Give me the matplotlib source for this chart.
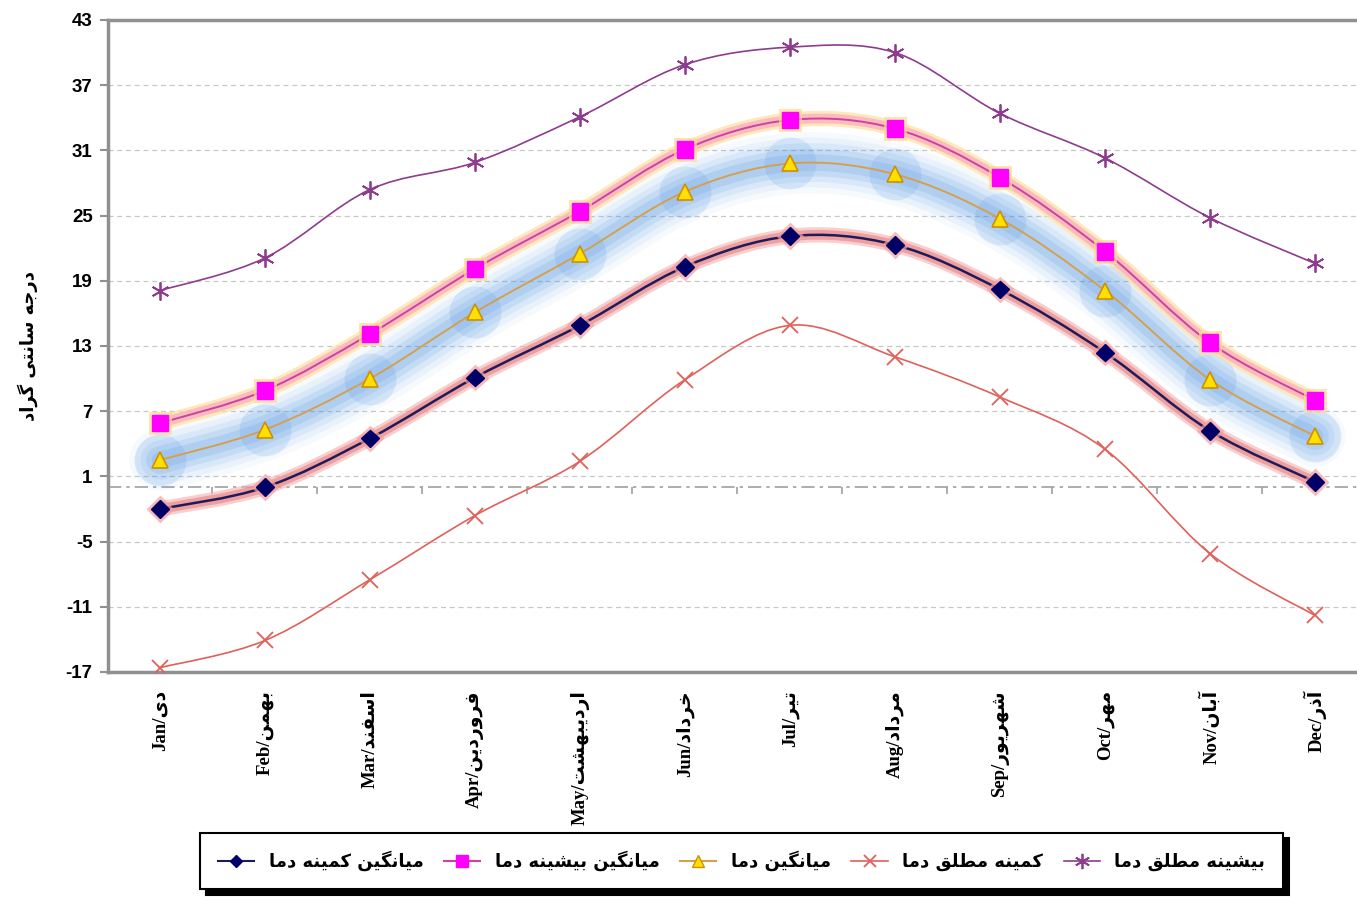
import matplotlib
matplotlib.use("Agg")
import matplotlib.pyplot as plt
import matplotlib.patheffects as pe
from matplotlib.path import Path
from matplotlib.patches import PathPatch
from matplotlib.lines import Line2D
import numpy as np

# Persian glyph forms (isolated, final, initial, medial) so matplotlib can draw joined text
FORMS = {
    'ا': (0xFE8D, 0xFE8E, None, None), 'آ': (0xFE81, 0xFE82, None, None),
    'ب': (0xFE8F, 0xFE90, 0xFE91, 0xFE92), 'ت': (0xFE95, 0xFE96, 0xFE97, 0xFE98),
    'ج': (0xFE9D, 0xFE9E, 0xFE9F, 0xFEA0), 'خ': (0xFEA5, 0xFEA6, 0xFEA7, 0xFEA8),
    'د': (0xFEA9, 0xFEAA, None, None), 'ذ': (0xFEAB, 0xFEAC, None, None),
    'ر': (0xFEAD, 0xFEAE, None, None), 'و': (0xFEED, 0xFEEE, None, None),
    'س': (0xFEB1, 0xFEB2, 0xFEB3, 0xFEB4), 'ش': (0xFEB5, 0xFEB6, 0xFEB7, 0xFEB8),
    'ط': (0xFEC1, 0xFEC2, 0xFEC3, 0xFEC4), 'ف': (0xFED1, 0xFED2, 0xFED3, 0xFED4),
    'ق': (0xFED5, 0xFED6, 0xFED7, 0xFED8), 'ل': (0xFEDD, 0xFEDE, 0xFEDF, 0xFEE0),
    'م': (0xFEE1, 0xFEE2, 0xFEE3, 0xFEE4), 'ن': (0xFEE5, 0xFEE6, 0xFEE7, 0xFEE8),
    'ه': (0xFEE9, 0xFEEA, 0xFEEB, 0xFEEC),
    '\u06a9': (0xFB8E, 0xFB8F, 0xFB90, 0xFB91), '\u0643': (0xFB8E, 0xFB8F, 0xFB90, 0xFB91),
    '\u06af': (0xFB92, 0xFB93, 0xFB94, 0xFB95),
    '\u06cc': (0xFBFC, 0xFBFD, 0xFBFE, 0xFBFF), '\u064a': (0xFBFC, 0xFBFD, 0xFBFE, 0xFBFF),
}


def fa(s):
    out = []
    for i, c in enumerate(s):
        if c not in FORMS:
            out.append(c)
            continue
        f = FORMS[c]
        prev = s[i - 1] if i > 0 else None
        nxt = s[i + 1] if i + 1 < len(s) else None
        jp = prev in FORMS and FORMS[prev][2] is not None
        jn = f[2] is not None and nxt in FORMS
        if jp and jn:
            code = f[3]
        elif jp:
            code = f[1]
        elif jn:
            code = f[2]
        else:
            code = f[0]
        out.append(chr(code))
    return ''.join(out)[::-1]


months_en = ['Jan', 'Feb', 'Mar', 'Apr', 'May', 'Jun', 'Jul', 'Aug', 'Sep', 'Oct', 'Nov', 'Dec']
months_fa = ['دی', 'بهمن', 'اسفند', 'فروردین', 'اردیبهشت', 'خرداد', 'تیر', 'مرداد',
             'شهریور', 'مهر', 'آبان', 'آذر']

mean_min = [-2.0, 0.0, 4.5, 10.1, 14.9, 20.3, 23.1, 22.3, 18.2, 12.4, 5.2, 0.5]
mean_max = [5.9, 8.9, 14.1, 20.1, 25.4, 31.1, 33.8, 33.0, 28.5, 21.7, 13.3, 8.0]
mean_t = [2.5, 5.3, 10.0, 16.1, 21.5, 27.2, 29.8, 28.8, 24.7, 18.1, 9.9, 4.7]
abs_min = [-16.6, -14.1, -8.5, -2.6, 2.4, 9.9, 14.9, 12.0, 8.3, 3.5, -6.1, -11.8]
abs_max = [18.1, 21.1, 27.4, 29.9, 34.1, 38.9, 40.5, 40.0, 34.4, 30.3, 24.8, 20.6]

lbl_mean_min = 'میانگین کمینه دما'
lbl_mean_max = 'میانگین بیشینه دما'
lbl_mean = 'میانگین دما'
lbl_abs_min = 'کمینه مطلق دما'
lbl_abs_max = 'بیشینه مطلق دما'
ylabel = 'درجه سانتی گراد'

x = np.arange(len(months_en))


def smooth_path(xs, ys):
    # Catmull-Rom style bezier through the data points (like Excel smoothed lines)
    p = np.column_stack([xs, ys]).astype(float)
    ext = np.vstack([p[0], p, p[-1]])
    verts = [p[0]]
    codes = [Path.MOVETO]
    for i in range(len(p) - 1):
        p0, p1, p2, p3 = ext[i], ext[i + 1], ext[i + 2], ext[i + 3]
        verts += [p1 + (p2 - p0) / 6, p2 - (p3 - p1) / 6, p2]
        codes += [Path.CURVE4] * 3
    return Path(verts, codes)


def glow(layers):
    return [pe.Stroke(linewidth=w, foreground=c, alpha=a) for w, c, a in layers] + [pe.Normal()]


fig = plt.figure(figsize=(13.57, 9.01), dpi=100)
ax = fig.add_axes([108 / 1357, 1 - 672 / 901, 1 - 108 / 1357, (672 - 20) / 901])

ax.set_ylim(-17, 43)
ax.set_xlim(-0.495, 11.4)
yt = np.arange(-17, 44, 6)
ax.set_yticks(yt)
ax.set_yticklabels([str(v) for v in yt], fontfamily='Liberation Sans', fontweight='bold', fontsize=13.5)
ax.yaxis.grid(True, color='#c8c8c8', ls=(0, (4, 3)), lw=0.9)
ax.set_axisbelow(True)
ax.tick_params(axis='y', length=6, width=1.5, color='#909090', pad=5)

for s in ['left', 'bottom', 'top']:
    ax.spines[s].set_color('#909090')
    ax.spines[s].set_linewidth(2.5)
ax.spines['right'].set_visible(False)

# category axis crossing at zero
ax.axhline(0, color='#a0a0a0', lw=1.2, ls=(0, (8, 3, 2, 3)), zorder=1)
ax.vlines(np.arange(-0.5, 12, 1.0), -0.6, 0, color='#a0a0a0', lw=1.2, zorder=1)

ax.set_xticks(x)
ax.set_xticklabels([f'{e}/{fa(f)}' for e, f in zip(months_en, months_fa)], rotation=90,
                   fontfamily=['Liberation Serif', 'DejaVu Sans'], fontweight='bold', fontsize=13.5)
ax.tick_params(axis='x', length=0, pad=13)

ax.set_ylabel(fa(ylabel), fontfamily='DejaVu Sans', fontweight='bold', fontsize=13, labelpad=20)

# absolute max / min lines
for ys, col in [(abs_max, '#8e3c8e'), (abs_min, '#e0605a')]:
    ax.add_patch(PathPatch(smooth_path(x, ys), fill=False, edgecolor=col, lw=1.2, zorder=3))

# mean with blue glow
mp = PathPatch(smooth_path(x, mean_t), fill=False, edgecolor='#d4a050', lw=1.4, zorder=4,
               capstyle='round', joinstyle='round')
mp.set_path_effects(glow([(44, '#6aaaea', 0.06), (36, '#5aa0e6', 0.08), (28, '#4a94e2', 0.10),
                          (20, '#3f8ae0', 0.13), (12, '#3a86de', 0.14)]))
ax.add_patch(mp)
ax.scatter(x, mean_t, s=1400, color='#3a86de', alpha=0.14, lw=0, zorder=3)

# mean min with pink glow
p1 = PathPatch(smooth_path(x, mean_min), fill=False, edgecolor='#1c1c5c', lw=1.8, zorder=5,
               capstyle='round', joinstyle='round')
p1.set_path_effects(glow([(11, '#f4b0b0', 0.6), (7, '#e88080', 0.6)]))
ax.add_patch(p1)

# mean max with pink / yellow glow
p2 = PathPatch(smooth_path(x, mean_max), fill=False, edgecolor='#d040a0', lw=1.4, zorder=5,
               capstyle='round', joinstyle='round')
p2.set_path_effects(glow([(11, '#ffe0a0', 0.7), (7, '#f8a0c0', 0.6)]))
ax.add_patch(p2)

ax.plot(x, abs_max, ls='none', marker=(6, 2, 0), ms=13, mew=1.3, color='#8e3c8e', zorder=6)
ax.plot(x, abs_min, ls='none', marker='x', ms=11, mew=1.3, color='#e0605a', zorder=6)
ax.plot(x, mean_t, ls='none', marker='^', ms=12, mfc='#ffe000', mec='#d09000', mew=1.2, zorder=6)
ax.plot(x, mean_min, ls='none', marker='D', ms=9, mfc='#000066', mec='#000066', zorder=6,
        path_effects=[pe.Stroke(linewidth=5, foreground='#f4a0a0', alpha=0.7), pe.Normal()])
ax.plot(x, mean_max, ls='none', marker='s', ms=12, mfc='#ff00ff', mec='#ff00ff', zorder=6,
        path_effects=[pe.Stroke(linewidth=5, foreground='#ffd890', alpha=0.7), pe.Normal()])

handles = [
    Line2D([], [], color='#1c1c5c', marker='D', ms=6, mfc='#000066', mec='#000066', lw=1.5),
    Line2D([], [], color='#d040a0', marker='s', ms=9, mfc='#ff00ff', mec='#ff00ff', lw=1.5),
    Line2D([], [], color='#d4a050', marker='^', ms=9, mfc='#ffe000', mec='#d09000', lw=1.5),
    Line2D([], [], color='#e0605a', marker='x', ms=9, mew=1.3, lw=1.2),
    Line2D([], [], color='#8e3c8e', marker=(6, 2, 0), ms=11, mew=1.3, lw=1.2),
]
labels = [fa(lbl_mean_min), fa(lbl_mean_max), fa(lbl_mean), fa(lbl_abs_min), fa(lbl_abs_max)]
leg = fig.legend(handles, labels, loc='center', ncol=5, mode='expand',
                 bbox_to_anchor=(200 / 1357, 1 - 889 / 901, 1083 / 1357, 56 / 901),
                 prop={'family': 'DejaVu Sans', 'weight': 'bold', 'size': 13},
                 frameon=True, fancybox=False, handlelength=2.0, borderaxespad=0, borderpad=1.0,
                 shadow={'ox': 4, 'oy': -4, 'facecolor': 'black', 'edgecolor': 'black', 'alpha': 1})
leg.get_frame().set_edgecolor('black')
leg.get_frame().set_linewidth(1.5)

fig.savefig('out.png', dpi=100)
